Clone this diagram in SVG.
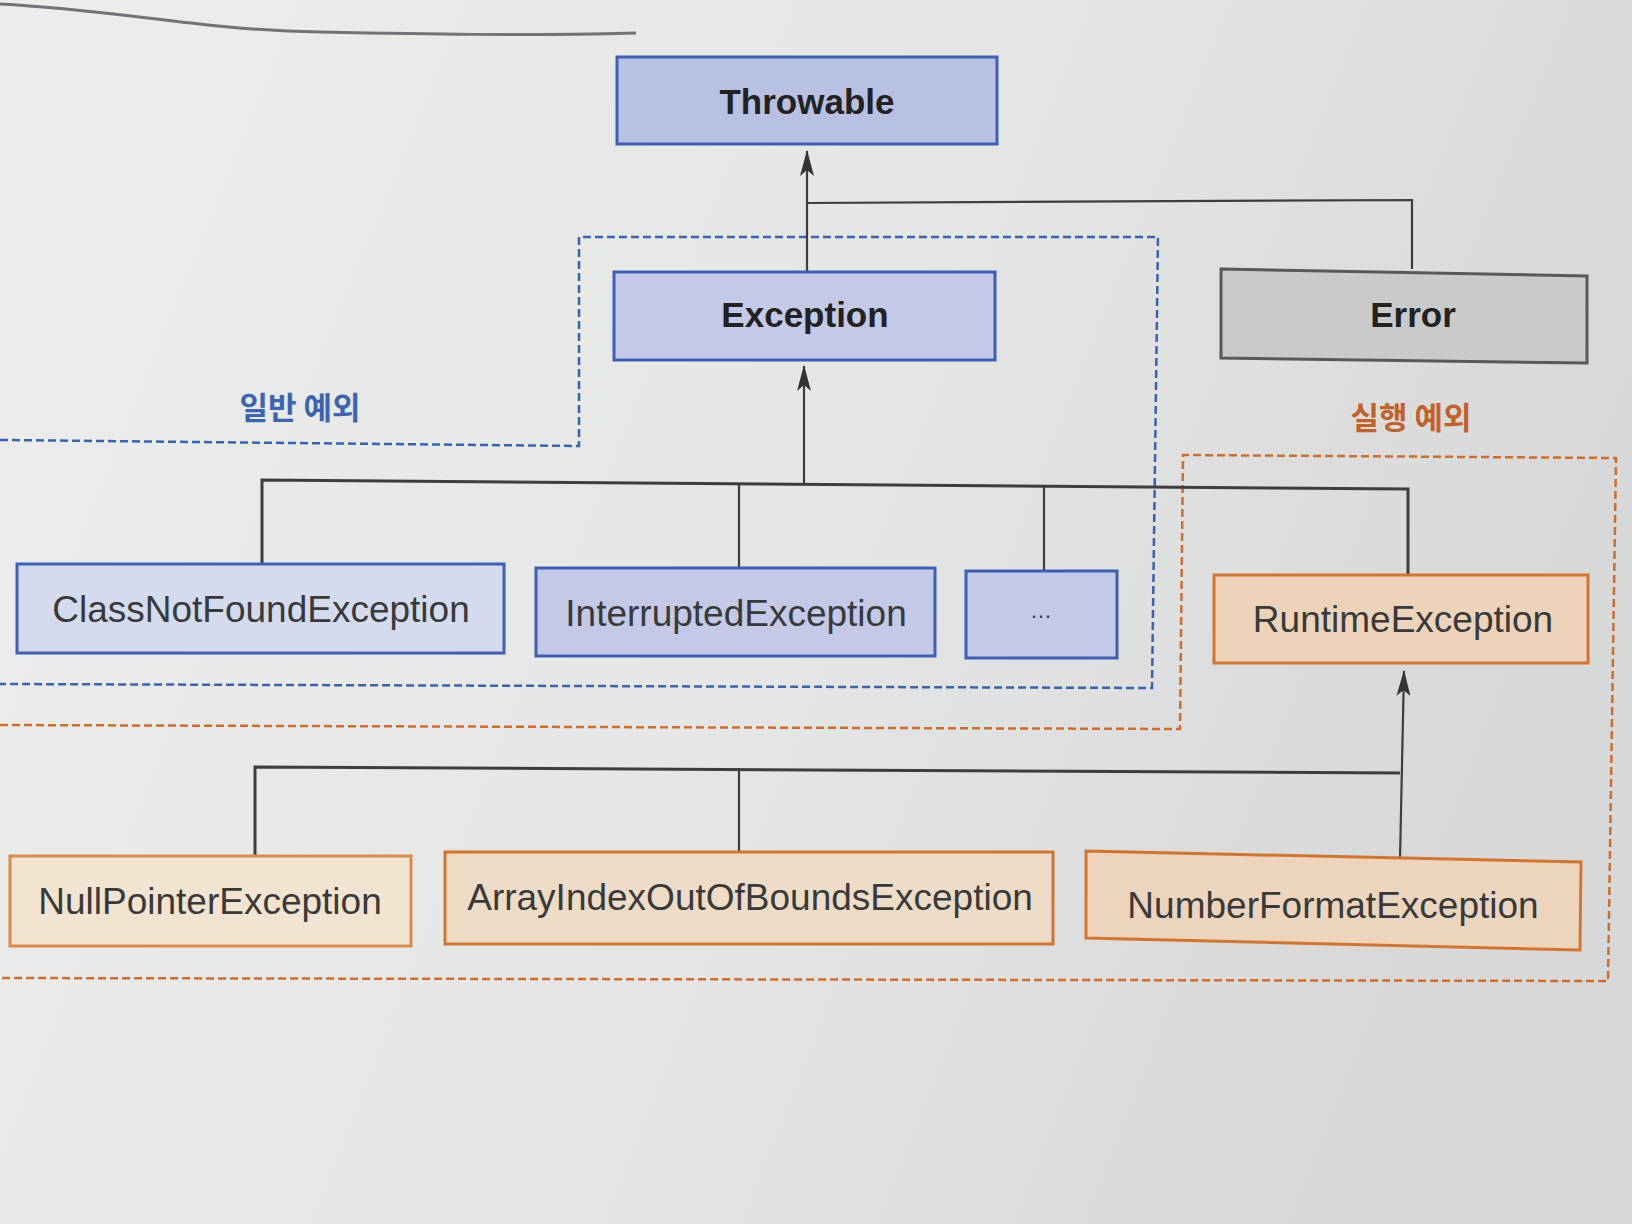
<svg xmlns="http://www.w3.org/2000/svg" width="1632" height="1224" viewBox="0 0 1632 1224">
<defs>
<linearGradient id="bg" x1="0" y1="0" x2="1" y2="0.3">
<stop offset="0" stop-color="#eceeec"/>
<stop offset="0.6" stop-color="#e3e6e4"/>
<stop offset="1" stop-color="#d6d9d7"/>
</linearGradient>
<marker id="arr" viewBox="0 0 26 14" refX="25" refY="7" markerWidth="26" markerHeight="14" markerUnits="userSpaceOnUse" orient="auto">
<path d="M26 7 L0 0 L6 7 L0 14 Z" fill="#333"/>
</marker>
<style>
.bx{stroke-width:3}
.blue{fill:#c3c9e7;stroke:#3d5fb5}
.grey{fill:#c9cbca;stroke:#585a5a}
.org{fill:#eed8c0;stroke:#d3742f}
.lbl{font-family:"Liberation Sans",Arial,sans-serif;font-size:37px;fill:#383a3a;text-anchor:middle}
.bold{font-weight:bold;font-size:35px;fill:#222}
.kr{font-family:"Noto Sans CJK KR","Noto Sans",sans-serif;font-size:31px;font-weight:bold;text-anchor:middle}
.ln{fill:none;stroke:#3c3e3e;stroke-width:2.2}
.bus{fill:none;stroke:#3c3e3e;stroke-width:3}
.dblue{fill:none;stroke:#3a62b2;stroke-width:2.5;stroke-dasharray:8 4}
.dorg{fill:none;stroke:#cf6d2c;stroke-width:2.5;stroke-dasharray:8 4}
</style>
</defs>
<rect width="1632" height="1224" fill="url(#bg)"/>
<path d="M0 4 C120 10 200 30 320 32 C420 34 520 36 636 33" fill="none" stroke="#6e7574" stroke-width="3"/>

<g id="regions">
<path class="dblue" d="M0 440 L579 446 L579 237 L1158 237 L1152 688 L0 684"/>
<path class="dorg" d="M0 725 L1180 729 L1183 455 L1616 458 L1608 981 L0 978"/>
<text class="kr" x="300" y="419" fill="#3d63b3">일반 예외</text>
<text class="kr" x="1411" y="429" fill="#c4612a">실행 예외</text>
</g>

<g id="connectors">
<line class="ln" x1="807" y1="272" x2="807" y2="151" marker-end="url(#arr)"/>
<polyline class="ln" points="807,203 1412,200 1412,269"/>
<line class="ln" x1="804" y1="484" x2="804" y2="366" marker-end="url(#arr)"/>
<polyline class="bus" points="262,565 262,480 1408,489 1408,575"/>
<line class="ln" x1="739" y1="484" x2="739" y2="568"/>
<line class="ln" x1="1044" y1="487" x2="1044" y2="571"/>
<line class="ln" x1="1400" y1="859" x2="1404" y2="671" marker-end="url(#arr)"/>
<polyline class="bus" points="255,856 255,767 1400,773"/>
<line class="ln" x1="739" y1="768" x2="739" y2="852"/>
</g>

<g id="Throwable">
<rect class="bx blue" x="617" y="57" width="380" height="87" style="fill:#b9c1e3"/>
<text class="lbl bold" x="807" y="114">Throwable</text>
</g>
<g id="Exception">
<rect class="bx blue" x="614" y="272" width="381" height="88"/>
<text class="lbl bold" x="805" y="327">Exception</text>
</g>
<g id="Error">
<path class="bx grey" d="M1221 269 L1587 276 L1587 363 L1221 358 Z"/>
<text class="lbl bold" x="1413" y="327">Error</text>
</g>
<g id="ClassNotFoundException">
<rect class="bx blue" x="17" y="564" width="487" height="89" style="fill:#d5dbee"/>
<text class="lbl" x="261" y="622">ClassNotFoundException</text>
</g>
<g id="InterruptedException">
<rect class="bx blue" x="536" y="568" width="399" height="88"/>
<text class="lbl" x="736" y="626">InterruptedException</text>
</g>
<g id="Etc">
<rect class="bx blue" x="966" y="571" width="151" height="87"/>
<text class="lbl" x="1041" y="618" style="font-size:22px">…</text>
</g>
<g id="RuntimeException">
<rect class="bx org" x="1214" y="575" width="374" height="88" style="fill:#ecd3b9"/>
<text class="lbl" x="1403" y="632">RuntimeException</text>
</g>
<g id="NullPointerException">
<rect class="bx org" x="10" y="856" width="401" height="90" style="fill:#f2e4d1;stroke:#da8a4a"/>
<text class="lbl" x="210" y="914">NullPointerException</text>
</g>
<g id="ArrayIndexOutOfBoundsException">
<rect class="bx org" x="445" y="852" width="608" height="92" style="fill:#efdcc6"/>
<text class="lbl" x="750" y="910">ArrayIndexOutOfBoundsException</text>
</g>
<g id="NumberFormatException">
<path class="bx org" d="M1086 851 L1581 862 L1580 950 L1086 938 Z" style="fill:#ecd4bd"/>
<text class="lbl" x="1333" y="918">NumberFormatException</text>
</g>
</svg>
